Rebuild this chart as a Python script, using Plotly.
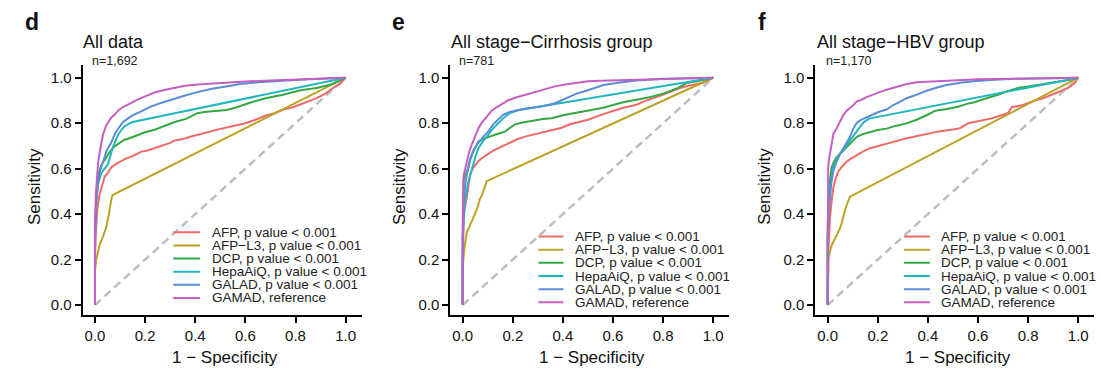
import plotly.graph_objects as go

# ---------------- data ----------------
MARKERS = ["AFP", "AFP-L3", "DCP", "HepaAiQ", "GALAD", "GAMAD"]
LEGEND_LABELS = ["AFP, p value < 0.001", "AFP\u2212L3, p value < 0.001", "DCP, p value < 0.001",
                 "HepaAiQ, p value < 0.001", "GALAD, p value < 0.001", "GAMAD, reference"]
COLORS = ["#EE6A66", "#B9A426", "#33A843", "#22B6BE", "#5A8DD6", "#C460C2"]
PANEL_LETTERS = ["d", "e", "f"]
PANEL_TITLES = ["All data", "All stage\u2212Cirrhosis group", "All stage\u2212HBV group"]
PANEL_N = ["n=1,692", "n=781", "n=1,170"]
TICK_VALS = [0, 0.2, 0.4, 0.6, 0.8, 1.0]
TICK_TEXT = ["0.0", "0.2", "0.4", "0.6", "0.8", "1.0"]
DIAG = [0, 1]

# Panel d: All data
D_AFP_X = [0, 0, 0.004, 0.01, 0.019, 0.03, 0.039, 0.05, 0.065, 0.085, 0.105, 0.125, 0.15, 0.185, 0.21, 0.238, 0.27, 0.3, 0.318, 0.35, 0.38, 0.419, 0.46, 0.5, 0.552, 0.6, 0.64, 0.685, 0.72, 0.75, 0.79, 0.818, 0.85, 0.884, 0.92, 0.95, 0.975, 1.0]
D_AFP_Y = [0, 0.2, 0.33, 0.43, 0.49, 0.535, 0.565, 0.58, 0.605, 0.622, 0.635, 0.645, 0.655, 0.675, 0.68, 0.69, 0.7, 0.713, 0.724, 0.73, 0.74, 0.752, 0.765, 0.775, 0.788, 0.8, 0.815, 0.835, 0.845, 0.86, 0.87, 0.882, 0.893, 0.91, 0.93, 0.955, 0.97, 1.0]
D_L3_X = [0, 0, 0.005, 0.012, 0.019, 0.03, 0.039, 0.046, 0.052, 0.056, 0.059, 0.062, 0.065, 0.068, 0.072, 1.0]
D_L3_Y = [0, 0.15, 0.2, 0.24, 0.266, 0.295, 0.324, 0.345, 0.383, 0.4, 0.427, 0.45, 0.471, 0.478, 0.485, 1.0]
D_DCP_X = [0, 0, 0.004, 0.012, 0.02, 0.03, 0.047, 0.06, 0.078, 0.1, 0.118, 0.14, 0.172, 0.2, 0.238, 0.28, 0.318, 0.366, 0.411, 0.445, 0.48, 0.525, 0.56, 0.618, 0.68, 0.75, 0.82, 0.884, 0.94, 1.0]
D_DCP_Y = [0, 0.3, 0.45, 0.56, 0.6, 0.625, 0.652, 0.675, 0.698, 0.712, 0.727, 0.735, 0.749, 0.76, 0.771, 0.79, 0.805, 0.82, 0.845, 0.85, 0.853, 0.858, 0.868, 0.89, 0.91, 0.925, 0.945, 0.955, 0.97, 1.0]
D_HEPA_X = [0, 0, 0.005, 0.012, 0.025, 0.04, 0.052, 0.07, 0.092, 0.105, 0.118, 0.14, 0.155, 1.0]
D_HEPA_Y = [0, 0.3, 0.46, 0.53, 0.58, 0.6, 0.62, 0.69, 0.749, 0.77, 0.786, 0.8, 0.806, 1.0]
D_GALAD_X = [0, 0, 0.005, 0.01, 0.02, 0.032, 0.047, 0.065, 0.08, 0.095, 0.113, 0.135, 0.153, 0.18, 0.22, 0.26, 0.3, 0.366, 0.42, 0.472, 0.53, 0.578, 0.65, 0.75, 0.85, 1.0]
D_GALAD_Y = [0, 0.3, 0.45, 0.52, 0.59, 0.635, 0.68, 0.715, 0.755, 0.78, 0.806, 0.823, 0.836, 0.85, 0.872, 0.888, 0.902, 0.924, 0.94, 0.953, 0.963, 0.972, 0.98, 0.987, 0.993, 1.0]
D_GAMAD_X = [0, 0, 0.003, 0.008, 0.012, 0.02, 0.032, 0.045, 0.065, 0.08, 0.092, 0.11, 0.132, 0.15, 0.172, 0.2, 0.238, 0.28, 0.318, 0.36, 0.411, 0.47, 0.53, 0.6, 0.7, 0.8, 0.9, 1.0]
D_GAMAD_Y = [0, 0.3, 0.48, 0.56, 0.62, 0.68, 0.75, 0.79, 0.825, 0.84, 0.855, 0.87, 0.883, 0.893, 0.905, 0.918, 0.935, 0.947, 0.957, 0.965, 0.97, 0.975, 0.978, 0.983, 0.988, 0.993, 0.997, 1.0]

# Panel e: All stage-Cirrhosis group
E_AFP_X = [0, 0, 0.004, 0.009, 0.016, 0.022, 0.029, 0.04, 0.049, 0.062, 0.076, 0.09, 0.102, 0.12, 0.142, 0.162, 0.195, 0.215, 0.249, 0.28, 0.315, 0.35, 0.395, 0.428, 0.46, 0.5, 0.561, 0.6, 0.641, 0.694, 0.721, 0.787, 0.82, 0.867, 0.9, 0.96, 1.0]
E_AFP_Y = [0, 0.2, 0.38, 0.43, 0.47, 0.52, 0.572, 0.6, 0.615, 0.632, 0.646, 0.658, 0.665, 0.678, 0.69, 0.7, 0.719, 0.728, 0.741, 0.75, 0.758, 0.77, 0.78, 0.795, 0.805, 0.815, 0.84, 0.855, 0.868, 0.881, 0.895, 0.92, 0.935, 0.955, 0.965, 0.978, 1.0]
E_L3_X = [0, 0, 0.005, 0.01, 0.016, 0.025, 0.036, 0.046, 0.056, 0.063, 0.069, 0.076, 0.082, 0.089, 0.096, 1.0]
E_L3_Y = [0, 0.16, 0.23, 0.28, 0.318, 0.34, 0.366, 0.39, 0.42, 0.445, 0.468, 0.48, 0.498, 0.52, 0.545, 1.0]
E_DCP_X = [0, 0, 0.003, 0.01, 0.022, 0.03, 0.042, 0.056, 0.063, 0.075, 0.089, 0.11, 0.129, 0.15, 0.169, 0.189, 0.209, 0.24, 0.275, 0.32, 0.355, 0.4, 0.448, 0.5, 0.528, 0.561, 0.6, 0.641, 0.694, 0.75, 0.8, 0.827, 0.86, 0.894, 0.94, 1.0]
E_DCP_Y = [0, 0.35, 0.55, 0.57, 0.601, 0.64, 0.675, 0.705, 0.719, 0.727, 0.734, 0.742, 0.749, 0.755, 0.763, 0.78, 0.795, 0.803, 0.81, 0.818, 0.822, 0.835, 0.845, 0.855, 0.862, 0.868, 0.88, 0.892, 0.903, 0.915, 0.93, 0.94, 0.955, 0.977, 0.985, 1.0]
E_HEPA_X = [0, 0, 0.005, 0.009, 0.02, 0.036, 0.05, 0.063, 0.08, 0.102, 0.12, 0.142, 0.165, 0.19, 0.22, 1.0]
E_HEPA_Y = [0, 0.3, 0.4, 0.454, 0.53, 0.601, 0.65, 0.69, 0.72, 0.749, 0.775, 0.8, 0.825, 0.845, 0.857, 1.0]
E_GALAD_X = [0, 0, 0.005, 0.009, 0.016, 0.029, 0.043, 0.063, 0.082, 0.102, 0.122, 0.14, 0.162, 0.185, 0.209, 0.24, 0.275, 0.32, 0.368, 0.41, 0.455, 0.5, 0.528, 0.561, 0.62, 0.694, 0.8, 0.9, 1.0]
E_GALAD_Y = [0, 0.3, 0.45, 0.52, 0.57, 0.64, 0.681, 0.715, 0.74, 0.763, 0.795, 0.815, 0.838, 0.848, 0.855, 0.862, 0.868, 0.875, 0.888, 0.91, 0.93, 0.945, 0.955, 0.968, 0.978, 0.988, 0.995, 0.998, 1.0]
E_GAMAD_X = [0, 0, 0.004, 0.01, 0.016, 0.025, 0.036, 0.05, 0.063, 0.075, 0.089, 0.1, 0.116, 0.135, 0.156, 0.18, 0.209, 0.24, 0.275, 0.32, 0.368, 0.41, 0.448, 0.5, 0.55, 0.63, 0.75, 0.85, 1.0]
E_GAMAD_Y = [0, 0.35, 0.57, 0.6, 0.631, 0.67, 0.705, 0.745, 0.778, 0.8, 0.82, 0.835, 0.855, 0.87, 0.885, 0.9, 0.912, 0.922, 0.933, 0.948, 0.962, 0.97, 0.976, 0.984, 0.987, 0.99, 0.993, 0.996, 1.0]

# Panel f: All stage-HBV group
F_AFP_X = [0, 0, 0.003, 0.006, 0.009, 0.015, 0.022, 0.03, 0.042, 0.055, 0.076, 0.095, 0.116, 0.14, 0.169, 0.2, 0.235, 0.27, 0.315, 0.36, 0.408, 0.45, 0.5, 0.528, 0.561, 0.6, 0.65, 0.694, 0.72, 0.734, 0.78, 0.827, 0.86, 0.894, 0.93, 0.96, 0.985, 1.0]
F_AFP_Y = [0, 0.15, 0.25, 0.307, 0.38, 0.45, 0.513, 0.55, 0.587, 0.605, 0.631, 0.645, 0.66, 0.675, 0.69, 0.7, 0.712, 0.72, 0.734, 0.745, 0.756, 0.765, 0.772, 0.778, 0.8, 0.808, 0.82, 0.835, 0.845, 0.87, 0.88, 0.9, 0.91, 0.925, 0.94, 0.955, 0.975, 1.0]
F_L3_X = [0, 0, 0.003, 0.01, 0.016, 0.026, 0.036, 0.049, 0.056, 0.063, 0.07, 0.076, 0.082, 0.089, 1.0]
F_L3_Y = [0, 0.15, 0.204, 0.24, 0.263, 0.285, 0.307, 0.337, 0.36, 0.396, 0.42, 0.44, 0.46, 0.477, 1.0]
F_DCP_X = [0, 0, 0.004, 0.01, 0.016, 0.025, 0.036, 0.05, 0.063, 0.076, 0.095, 0.116, 0.14, 0.169, 0.2, 0.235, 0.27, 0.315, 0.355, 0.395, 0.43, 0.475, 0.52, 0.555, 0.59, 0.634, 0.68, 0.714, 0.76, 0.82, 0.88, 0.95, 1.0]
F_DCP_Y = [0, 0.35, 0.5, 0.56, 0.607, 0.63, 0.651, 0.665, 0.68, 0.696, 0.715, 0.74, 0.752, 0.762, 0.77, 0.776, 0.788, 0.799, 0.815, 0.835, 0.855, 0.862, 0.872, 0.885, 0.893, 0.91, 0.925, 0.94, 0.955, 0.965, 0.975, 0.988, 1.0]
F_HEPA_X = [0, 0, 0.005, 0.009, 0.016, 0.023, 0.035, 0.049, 0.07, 0.089, 0.11, 0.129, 0.145, 0.165, 1.0]
F_HEPA_Y = [0, 0.3, 0.45, 0.519, 0.56, 0.607, 0.64, 0.666, 0.695, 0.725, 0.755, 0.784, 0.805, 0.82, 1.0]
F_GALAD_X = [0, 0, 0.005, 0.009, 0.015, 0.022, 0.035, 0.049, 0.062, 0.076, 0.089, 0.102, 0.115, 0.129, 0.15, 0.169, 0.2, 0.235, 0.262, 0.29, 0.315, 0.355, 0.395, 0.44, 0.475, 0.53, 0.581, 0.65, 0.75, 0.9, 1.0]
F_GALAD_Y = [0, 0.3, 0.42, 0.484, 0.54, 0.587, 0.63, 0.663, 0.69, 0.719, 0.74, 0.775, 0.8, 0.812, 0.822, 0.833, 0.848, 0.86, 0.88, 0.895, 0.91, 0.925, 0.943, 0.958, 0.968, 0.978, 0.985, 0.99, 0.995, 0.998, 1.0]
F_GAMAD_X = [0, 0, 0.002, 0.005, 0.009, 0.016, 0.023, 0.036, 0.049, 0.063, 0.076, 0.089, 0.105, 0.116, 0.129, 0.155, 0.182, 0.21, 0.235, 0.26, 0.29, 0.315, 0.355, 0.4, 0.45, 0.515, 0.6, 0.75, 0.9, 1.0]
F_GAMAD_Y = [0, 0.4, 0.6, 0.64, 0.666, 0.719, 0.754, 0.778, 0.81, 0.837, 0.855, 0.866, 0.882, 0.896, 0.9, 0.915, 0.928, 0.938, 0.947, 0.955, 0.965, 0.972, 0.98, 0.982, 0.985, 0.99, 0.993, 0.996, 0.998, 1.0]

PANELS = [
    [(D_AFP_X, D_AFP_Y), (D_L3_X, D_L3_Y), (D_DCP_X, D_DCP_Y), (D_HEPA_X, D_HEPA_Y), (D_GALAD_X, D_GALAD_Y), (D_GAMAD_X, D_GAMAD_Y)],
    [(E_AFP_X, E_AFP_Y), (E_L3_X, E_L3_Y), (E_DCP_X, E_DCP_Y), (E_HEPA_X, E_HEPA_Y), (E_GALAD_X, E_GALAD_Y), (E_GAMAD_X, E_GAMAD_Y)],
    [(F_AFP_X, F_AFP_Y), (F_L3_X, F_L3_Y), (F_DCP_X, F_DCP_Y), (F_HEPA_X, F_HEPA_Y), (F_GALAD_X, F_GALAD_Y), (F_GAMAD_X, F_GAMAD_Y)],
]

# ---------------- layout ----------------
W, H = 1107, 371
FONT = "Liberation Sans, Arial, Helvetica, sans-serif"


def px(x):
    return x / W


def py(y):
    return 1 - y / H


X_RANGE = [-0.049, 1.064]
Y_RANGE = [-0.044, 1.056]
X_DOMAINS = [[px(82.7), px(361.7)], [px(450.4), px(729.3)], [px(815.4), px(1094.3)]]
Y_DOMAIN = [py(315), py(65)]

LETTER_POS = [(32, 22), (398, 22), (762, 22)]
TITLE_POS = [(80.5, 41.5), (448.5, 41.5), (814.5, 41.5)]
N_POS = [(89.5, 61), (457, 61), (824, 61)]
YTITLE_X = [34.3, 399.3, 765]
XTITLE_X = [224.7, 591.7, 958.3]
LEG_LINE = [(0.312, 0.419, 0.458), (0.302, 0.402, 0.441), (0.305, 0.408, 0.445)]
LEG_TOP = [0.32, 0.301, 0.301]
LEG_STEP = 0.0578

fig = go.Figure()
annotations = []
shapes = []

for p in range(3):
    xa = "x" if p == 0 else f"x{p+1}"
    ya = "y" if p == 0 else f"y{p+1}"
    fig.add_trace(go.Scatter(x=DIAG, y=DIAG, mode="lines", xaxis=xa, yaxis=ya,
                             line=dict(color="#BEBEBE", width=2.5, dash="8px,5px"),
                             showlegend=False, hoverinfo="skip"))
    for i, (xs, ys) in enumerate(PANELS[p]):
        fig.add_trace(go.Scatter(x=xs, y=ys, mode="lines", xaxis=xa, yaxis=ya,
                                 name=MARKERS[i],
                                 line=dict(color=COLORS[i], width=2),
                                 showlegend=False))
    axis_common = dict(showline=True, linecolor="black", linewidth=2,
                       ticks="outside", ticklen=6, tickwidth=1.6, tickcolor="black",
                       showgrid=False, zeroline=False,
                       tickvals=TICK_VALS, ticktext=TICK_TEXT,
                       tickfont=dict(family=FONT, size=15, color="#111"))
    fig.layout[f"xaxis{'' if p == 0 else p+1}"] = dict(
        axis_common, domain=X_DOMAINS[p], range=X_RANGE, anchor=ya)
    fig.layout[f"yaxis{'' if p == 0 else p+1}"] = dict(
        axis_common, domain=Y_DOMAIN, range=Y_RANGE, anchor=xa)

    # panel letter, title, n
    annotations.append(dict(text=f"<b>{PANEL_LETTERS[p]}</b>", x=px(LETTER_POS[p][0]), y=py(LETTER_POS[p][1]),
                            xref="paper", yref="paper", showarrow=False, xanchor="center", yanchor="middle",
                            font=dict(family=FONT, size=23, color="#111")))
    annotations.append(dict(text=PANEL_TITLES[p], x=px(TITLE_POS[p][0]), y=py(TITLE_POS[p][1]),
                            xref="paper", yref="paper", showarrow=False, xanchor="left", yanchor="middle",
                            font=dict(family=FONT, size=18, color="#111")))
    annotations.append(dict(text=PANEL_N[p], x=px(N_POS[p][0]), y=py(N_POS[p][1]),
                            xref="paper", yref="paper", showarrow=False, xanchor="left", yanchor="middle",
                            font=dict(family=FONT, size=12.5, color="#222")))
    annotations.append(dict(text="Sensitivity", x=px(YTITLE_X[p]), y=py(186.7), textangle=-90,
                            xref="paper", yref="paper", showarrow=False, xanchor="center", yanchor="middle",
                            font=dict(family=FONT, size=17, color="#111")))
    annotations.append(dict(text="1 \u2212 Specificity", x=px(XTITLE_X[p]), y=py(357.5),
                            xref="paper", yref="paper", showarrow=False, xanchor="center", yanchor="middle",
                            font=dict(family=FONT, size=17, color="#111")))
    # legend
    x0, x1, xt = LEG_LINE[p]
    for i in range(6):
        yy = LEG_TOP[p] - i * LEG_STEP
        shapes.append(dict(type="line", xref=xa, yref=ya, x0=x0, x1=x1, y0=yy, y1=yy,
                           line=dict(color=COLORS[i], width=2)))
        annotations.append(dict(text=LEGEND_LABELS[i], x=xt, y=yy, xref=xa, yref=ya,
                                showarrow=False, xanchor="left", yanchor="middle",
                                font=dict(family=FONT, size=13.5, color="#222")))

fig.update_layout(width=W, height=H, margin=dict(l=0, r=0, t=0, b=0),
                  paper_bgcolor="white", plot_bgcolor="white",
                  showlegend=False, annotations=annotations, shapes=shapes,
                  font=dict(family=FONT))

fig.write_html("out.html", config={"displayModeBar": False},
               post_script="document.body.style.margin='0';document.body.style.padding='0';"
                           "document.documentElement.style.overflow='hidden';")
